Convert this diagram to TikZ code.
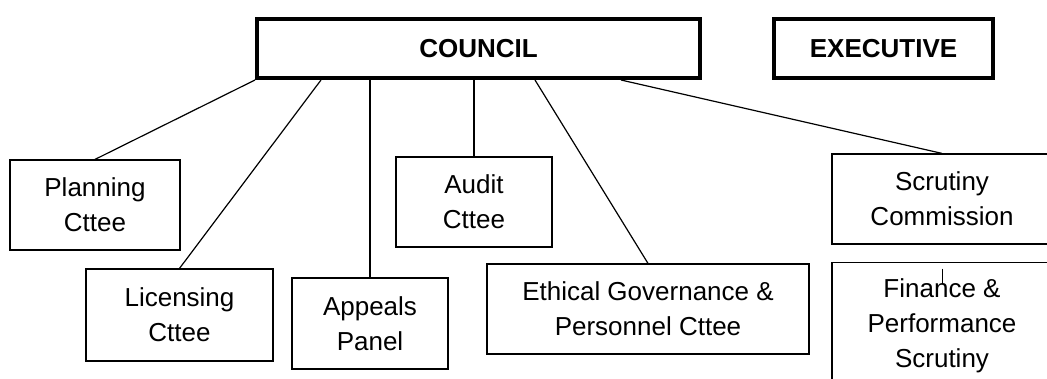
\documentclass[tikz,border=0pt]{standalone}
\usepackage{fontspec}
\setmainfont{Liberation Sans}
\usetikzlibrary{positioning}

\begin{document}
\begin{tikzpicture}[x=1pt,y=-1pt,
      every node/.style={font=\fontsize{26}{35}\selectfont,align=center,inner sep=0pt},
      head/.style={draw,line width=4pt,minimum height=59pt,font=\fontsize{26}{35}\selectfont\bfseries},
      cttee/.style={draw,line width=1.2pt,minimum height=90pt},
      link/.style={line width=1.2pt}]
      \useasboundingbox (0,0) rectangle (1047,378);
      \clip (0,0) rectangle (1047,378);
      \node[head,minimum width=443pt] (council) at (478.5,48.5) {COUNCIL};
      \node[head,minimum width=219pt] (exec) [right=70pt of council] {EXECUTIVE};
      \node[cttee,minimum width=170pt] (plan) at (95,205) {Planning\\Cttee};
      \node[cttee,minimum width=187pt,minimum height=92pt] (lic) at (179.5,315) {Licensing\\Cttee};
      \node[cttee,minimum width=156pt,minimum height=91pt] (app) at (370,323.5) {Appeals\\Panel};
      \node[cttee,minimum width=156pt] (audit) at (474,202) {Audit\\Cttee};
      \node[cttee,minimum width=322pt] (eth) at (648,309) {Ethical Governance \&\\Personnel Cttee};
      \node[cttee,minimum width=220pt] (scr) at (942,199) {Scrutiny\\Commission};
      \node[draw,line width=1.2pt,minimum width=220pt,inner ysep=16pt] (fin) [below=17pt of scr] {Finance \&\\Performance\\Scrutiny};
      \path[link] (council.south west) edge (plan.north)
                  ([xshift=66pt]council.south west) edge (lic.north)
                  (app.north |- council.south) edge (app.north)
                  (audit.north |- council.south) edge (audit.north)
                  ([xshift=-167pt]council.south east) edge (eth.north)
                  ([xshift=-81pt]council.south east) edge (scr.north);
      \draw[line width=1pt] ([yshift=-7pt]fin.north) -- ++(0,15);
    \end{tikzpicture}
\end{document}
